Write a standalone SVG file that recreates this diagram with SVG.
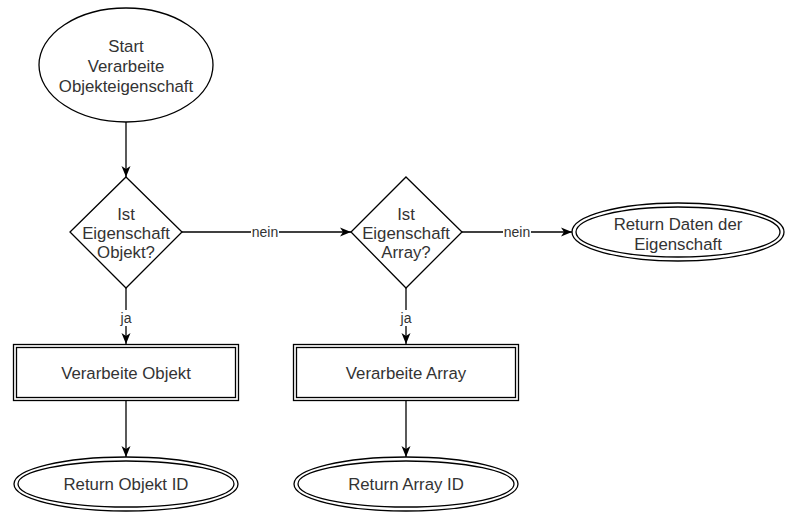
<svg xmlns="http://www.w3.org/2000/svg" width="788" height="512" viewBox="0 0 788 512">
<style>
.s{fill:#fff;stroke:#000;stroke-width:1.3}
.d{fill:none;stroke:#000;stroke-width:1.3}
.t{font-family:"Liberation Sans",Arial,sans-serif;font-size:16.8px;fill:#333;text-anchor:middle;dominant-baseline:central}
.l{font-family:"Liberation Sans",Arial,sans-serif;font-size:14px;fill:#333;text-anchor:middle;dominant-baseline:central}
.e{fill:none;stroke:#000;stroke-width:1.3}
.lb{fill:#fff}
</style>
<defs>
<marker id="a" markerUnits="userSpaceOnUse" markerWidth="12" markerHeight="10" refX="11" refY="5" orient="auto">
<path d="M0,0.5 L11,5 L0,9.5 L3,5 Z" fill="#000"/>
</marker>
</defs>
<rect width="788" height="512" fill="#fff"/>
<g id="connectors">
<line class="e" x1="126" y1="122" x2="126" y2="177" marker-end="url(#a)"/>
<line class="e" x1="182" y1="232" x2="351" y2="232" marker-end="url(#a)"/>
<rect class="lb" x="251" y="224" width="28" height="16"/>
<text class="l" x="265" y="232">nein</text>
<line class="e" x1="462" y1="232" x2="572" y2="232" marker-end="url(#a)"/>
<rect class="lb" x="503" y="224" width="28" height="16"/>
<text class="l" x="517" y="232">nein</text>
<line class="e" x1="126" y1="288" x2="126" y2="344" marker-end="url(#a)"/>
<rect class="lb" x="118" y="310" width="16" height="16"/>
<text class="l" x="126" y="318">ja</text>
<line class="e" x1="406" y1="288" x2="406" y2="344" marker-end="url(#a)"/>
<rect class="lb" x="398" y="310" width="16" height="16"/>
<text class="l" x="406" y="318">ja</text>
<line class="e" x1="126" y1="401" x2="126" y2="457" marker-end="url(#a)"/>
<line class="e" x1="406" y1="401" x2="406" y2="457" marker-end="url(#a)"/>
</g>
<g id="start">
<ellipse class="s" cx="126" cy="65" rx="87" ry="57"/>
<text class="t" x="126" y="46">Start</text>
<text class="t" x="126" y="66">Verarbeite</text>
<text class="t" x="126" y="86">Objekteigenschaft</text>
</g>
<g id="isObject">
<polygon class="s" points="126,177 182,232 126,288 70,232"/>
<text class="t" x="126" y="214">Ist</text>
<text class="t" x="126" y="233">Eigenschaft</text>
<text class="t" x="126" y="252">Objekt?</text>
</g>
<g id="isArray">
<polygon class="s" points="406,177 462,232 406,288 351,232"/>
<text class="t" x="406" y="214">Ist</text>
<text class="t" x="406" y="233">Eigenschaft</text>
<text class="t" x="406" y="252">Array?</text>
</g>
<g id="returnData">
<ellipse class="s" cx="678" cy="232" rx="106" ry="29"/>
<ellipse class="d" cx="678" cy="232" rx="102" ry="25"/>
<text class="t" x="678" y="224">Return Daten der</text>
<text class="t" x="678" y="244">Eigenschaft</text>
</g>
<g id="processObject">
<rect class="s" x="13.5" y="344.5" width="225" height="56"/>
<rect class="d" x="16.5" y="347.5" width="219" height="50"/>
<text class="t" x="126" y="373">Verarbeite Objekt</text>
</g>
<g id="processArray">
<rect class="s" x="293.5" y="344.5" width="225" height="56"/>
<rect class="d" x="296.5" y="347.5" width="219" height="50"/>
<text class="t" x="406" y="373">Verarbeite Array</text>
</g>
<g id="returnObject">
<ellipse class="s" cx="126" cy="484" rx="112" ry="27"/>
<ellipse class="d" cx="126" cy="484" rx="108" ry="23"/>
<text class="t" x="126" y="484">Return Objekt ID</text>
</g>
<g id="returnArray">
<ellipse class="s" cx="406" cy="484" rx="112" ry="27"/>
<ellipse class="d" cx="406" cy="484" rx="108" ry="23"/>
<text class="t" x="406" y="484">Return Array ID</text>
</g>
</svg>
